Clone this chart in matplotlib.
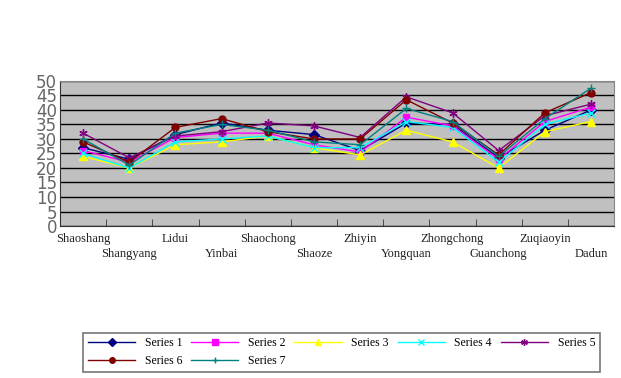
import matplotlib.pyplot as plt

points = ['Shaoshang', 'Shangyang', 'Lidui', 'Yinbai', 'Shaochong', 'Shaoze',
          'Zhiyin', 'Yongquan', 'Zhongchong', 'Guanchong', 'Zuqiaoyin', 'Dadun']

series1 = [27, 23, 31.5, 35.5, 33, 31.5, 26, 35.5, 35, 23.5, 33, 40]
series2 = [26, 22, 30.5, 32, 32, 28, 25.5, 37.5, 34.5, 23, 36, 41]
series3 = [24, 20, 28, 29, 31, 27, 24.5, 33, 29, 20, 32.5, 36]
series4 = [25, 20, 29, 30, 31, 27, 27, 36, 34, 22, 35, 39]
series5 = [32, 23.5, 31, 32.5, 35.5, 34.5, 30.5, 44.5, 39, 26, 38, 42]
series6 = [29, 22, 34, 37, 32.5, 30, 30, 43.5, 35.5, 24.5, 39, 46]
series7 = [30, 21, 32, 35, 33, 29, 28, 40.5, 36, 24, 37, 47.5]

names = ['Series 1', 'Series 2', 'Series 3', 'Series 4', 'Series 5', 'Series 6', 'Series 7']
colors = ['#000080', '#ff00ff', '#ffff00', '#00ffff', '#800080', '#800000', '#008080']
markers = ['D', 's', '^', 'x', (6, 2, 0), 'o', '+']
all_series = [series1, series2, series3, series4, series5, series6, series7]

fig = plt.figure(figsize=(6.21, 3.78), dpi=100)
ax = fig.add_axes([0.0966, 0.402, 0.8924, 0.384])
ax.set_facecolor('#c0c0c0')

x = list(range(len(points)))
lines = []
for vals, name, c, m in zip(all_series, names, colors, markers):
    ms = 5 if m in ('D', 's', 'o') else 6
    ln, = ax.plot(x, vals, color=c, marker=m, markersize=ms, linewidth=1,
                  markeredgecolor=c, label=name)
    lines.append(ln)

ax.set_xlim(-0.5, len(points) - 0.5)
ax.set_ylim(0, 50)
ax.set_yticks(range(0, 51, 5))
ax.yaxis.grid(True, color='black', linewidth=1)
ax.set_axisbelow(True)
ax.tick_params(axis='y', length=0, labelsize=12, labelcolor='#666666', pad=2)

# category labels, staggered
ax.set_xticks(x)
ax.set_xticklabels([])
ax.tick_params(axis='x', which='major', length=0)
ax.set_xticks([i + 0.5 for i in range(len(points) - 1)], minor=True)
ax.tick_params(axis='x', which='minor', direction='in', length=5, color='#333333')
for i, name in enumerate(points):
    off = -9 if i % 2 == 0 else -20
    ax.annotate(name, xy=(i, 0), xycoords=('data', 'axes fraction'),
                xytext=(0, off), textcoords='offset points', ha='center', va='center',
                fontsize=9, family='Liberation Serif', color='#222222')

for side in ['top', 'right']:
    ax.spines[side].set_color('#888888')
ax.spines['left'].set_color('#333333')
ax.spines['bottom'].set_color('#333333')

# row-wise legend order: 1..5 on top, 6, 7 below
order = [0, 5, 1, 6, 2, 3, 4]
leg = fig.legend([lines[i] for i in order], [names[i] for i in order],
                 loc='lower left', bbox_to_anchor=(0.134, 0.016, 0.832, 0.143),
                 mode='expand', ncol=5, frameon=True, fancybox=False,
                 edgecolor='#555555', prop={'family': 'Liberation Serif', 'size': 8.5},
                 handlelength=4, borderaxespad=0, columnspacing=1.5, markerscale=0.8)
leg.get_frame().set_linewidth(1.2)

fig.savefig('out.png', dpi=100)
